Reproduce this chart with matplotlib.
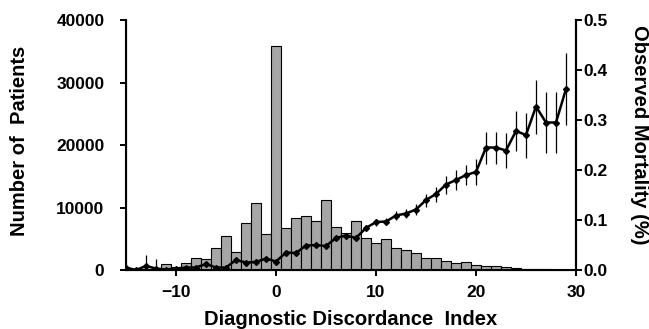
import numpy as np
import matplotlib.pyplot as plt

plt.rcParams['font.family'] = ['Liberation Sans', 'DejaVu Sans']
plt.rcParams['font.weight'] = 'bold'

# histogram of patients per discordance index
bar_idx = list(range(-14, 30))
patients = [50, 100, 200, 900, 500, 1200, 2000, 1750, 3500, 5500, 2900, 7600, 10800, 5800,
            35800, 6700, 8300, 8600, 7900, 11200, 6900, 5900, 7900, 5200, 4300, 5000, 3500,
            3200, 2800, 2000, 1900, 1500, 1200, 1300, 800, 640, 590, 480, 320, 210, 160, 100,
            60, 40]

# observed mortality with error bars
mort_idx = list(range(-15, 30))
mortality = [0.005, 0.0, 0.008, 0.003, 0.001, 0.003, 0.005, 0.005, 0.012, 0.005, 0.005, 0.02,
             0.015, 0.016, 0.023, 0.017, 0.035, 0.034, 0.049, 0.05, 0.048, 0.064, 0.069, 0.064,
             0.084, 0.096, 0.097, 0.109, 0.113, 0.121, 0.14, 0.152, 0.171, 0.18, 0.19, 0.196,
             0.245, 0.245, 0.239, 0.278, 0.27, 0.327, 0.295, 0.295, 0.362]
mort_err = [0.004, 0.004, 0.022, 0.02, 0.004, 0.003, 0.003, 0.003, 0.004, 0.003, 0.003, 0.003,
            0.003, 0.003, 0.003, 0.003, 0.004, 0.004, 0.004, 0.004, 0.004, 0.005, 0.005, 0.005,
            0.006, 0.007, 0.007, 0.009, 0.009, 0.011, 0.013, 0.015, 0.018, 0.02, 0.02, 0.026,
            0.032, 0.032, 0.035, 0.04, 0.045, 0.054, 0.061, 0.061, 0.072]

fig = plt.figure(figsize=(6.49, 3.29), dpi=100)
ax = fig.add_axes([0.1941, 0.1793, 0.6934, 0.7599])

ax.bar(bar_idx, patients, width=1.0, color='#a6a6a6', edgecolor='black', linewidth=0.8)
ax.set_xlim(-15, 30)
ax.set_ylim(0, 40000)
ax.set_xticks([-10, 0, 10, 20, 30])
ax.set_yticks([0, 10000, 20000, 30000, 40000])
ax.spines['top'].set_visible(False)
for s in ['left', 'right', 'bottom']:
    ax.spines[s].set_linewidth(1.5)
ax.tick_params(direction='out', length=4.5, width=1.4, labelsize=12.5)
ax.tick_params(axis='y', pad=11)
ax.tick_params(axis='x', pad=6)
ax.set_xlabel('Diagnostic Discordance  Index', fontsize=14.5, fontweight='bold')
ax.set_ylabel('Number of  Patients', fontsize=14.5, fontweight='bold')
ax.xaxis.set_label_coords(0.5, -0.158)
ax.yaxis.set_label_coords(-0.2356, 0.516)
ax.yaxis.label.set_va('center')

ax2 = ax.twinx()
ax2.set_ylim(0, 0.5)
ax2.set_yticks([0.0, 0.1, 0.2, 0.3, 0.4, 0.5])
ax2.spines['top'].set_visible(False)
ax2.spines['right'].set_linewidth(1.5)
ax2.tick_params(direction='out', length=4.5, width=1.4, labelsize=12.5, pad=1)
low = np.minimum(np.array(mort_err), np.array(mortality))
ax2.errorbar(mort_idx, mortality, yerr=[low, mort_err], color='black', lw=1.8,
             marker='D', markersize=3, elinewidth=0.9, capsize=0)
ax2.set_ylabel('Observed Mortality (%)', fontsize=14.5, fontweight='bold', rotation=-90)
ax2.yaxis.set_label_coords(1.142, 0.54)
ax2.yaxis.label.set_va('center')

fig.savefig('out.png', dpi=100)
